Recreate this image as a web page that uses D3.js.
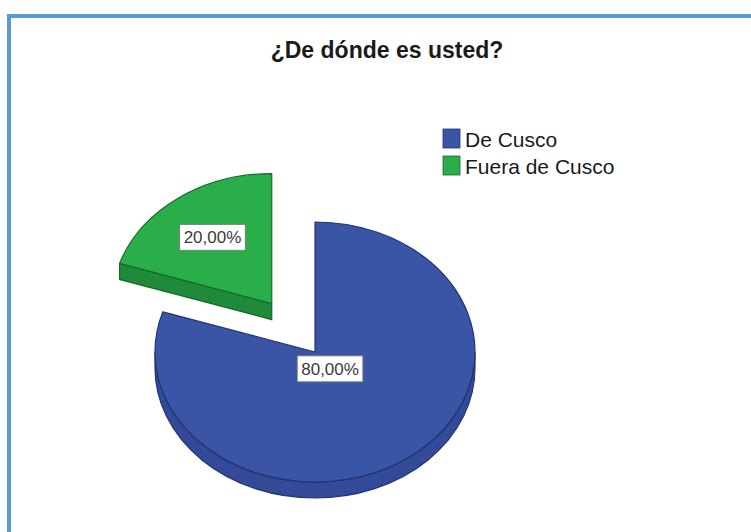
<!DOCTYPE html>
<html>
<head>
<meta charset="utf-8">
<script src="https://cdn.jsdelivr.net/npm/d3@7"></script>
<style>
  html, body { margin: 0; padding: 0; background: #ffffff; }
  svg { display: block; }
</style>
</head>
<body>
<svg id="chart" width="751" height="532"></svg>
<script>
// Survey answers: where the respondent is from
const categories = ["De Cusco", "Fuera de Cusco"];
const percentages = [80, 20];
const exploded = [false, true];
const topColors = ["#3a54a6", "#2aae4a"];
const sideColors = ["#324a98", "#1f8a3a"];
const edgeColors = ["#22356f", "#176a2c"];
const chartTitle = "¿De dónde es usted?";

const W = 751, H = 532;
const svg = d3.select("#chart");

// frame
svg.append("rect")
  .attr("x", 9).attr("y", 16)
  .attr("width", W + 20).attr("height", H + 20)
  .attr("fill", "#ffffff")
  .attr("stroke", "#5b9bd5")
  .attr("stroke-width", 4);

// title
svg.append("text")
  .attr("x", 387).attr("y", 58)
  .attr("text-anchor", "middle")
  .attr("font-family", "Liberation Sans, Arial, sans-serif")
  .attr("font-weight", "bold")
  .attr("font-size", 23)
  .attr("fill", "#1a1a1a")
  .text(chartTitle);

// tilted pie geometry
const cx = 315, cy = 352;   // centre of the top face
const rx = 160, ry = 130;   // ellipse radii
const depth = 16;           // thickness of the disc
const explodeFrac = 0.46;   // pull-out distance, as a fraction of the radius

const pie = d3.pie().sort(null).startAngle(0).endAngle(2 * Math.PI).value(d => d);
const arcs = pie(percentages);

const fmt = d3.formatLocale({ decimal: ",", thousands: ".", grouping: [3], currency: ["", ""] }).format(".2f");
const total = d3.sum(percentages);

function pt(c, a, dy = 0) {
  return [c[0] + rx * Math.sin(a), c[1] - ry * Math.cos(a) + dy];
}

function topPath(c, a0, a1) {
  const p0 = pt(c, a0), p1 = pt(c, a1);
  const large = (a1 - a0) > Math.PI ? 1 : 0;
  return `M${c[0]},${c[1]} L${p0[0]},${p0[1]} A${rx},${ry} 0 ${large} 1 ${p1[0]},${p1[1]} Z`;
}

function wallPath(c, b0, b1) {
  const p0 = pt(c, b0), p1 = pt(c, b1);
  const q0 = pt(c, b0, depth), q1 = pt(c, b1, depth);
  const large = (b1 - b0) > Math.PI ? 1 : 0;
  return `M${p0[0]},${p0[1]} A${rx},${ry} 0 ${large} 1 ${p1[0]},${p1[1]} ` +
         `L${q1[0]},${q1[1]} A${rx},${ry} 0 ${large} 0 ${q0[0]},${q0[1]} Z`;
}

function cutPath(c, a) {
  const p = pt(c, a), q = pt(c, a, depth);
  return `M${c[0]},${c[1]} L${p[0]},${p[1]} L${q[0]},${q[1]} L${c[0]},${c[1] + depth} Z`;
}

const slices = arcs.map((d, i) => {
  const mid = (d.startAngle + d.endAngle) / 2;
  const k = exploded[i] ? explodeFrac : 0;
  const c = [cx + k * rx * Math.sin(mid), cy - k * ry * Math.cos(mid)];
  return { d, i, mid, c };
});

// slices further back are drawn first
const order = slices.slice().sort((a, b) => a.c[1] - b.c[1]);
const g = svg.append("g");

order.forEach(s => {
  const { d, i, c } = s;
  const a0 = d.startAngle, a1 = d.endAngle;
  const sg = g.append("g");

  // outer wall, visible on the front half (pi/2 .. 3pi/2)
  const b0 = Math.max(a0, Math.PI / 2), b1 = Math.min(a1, 3 * Math.PI / 2);
  if (b1 > b0) {
    sg.append("path").attr("d", wallPath(c, b0, b1))
      .attr("fill", sideColors[i]).attr("stroke", edgeColors[i]).attr("stroke-width", 1.2);
  }
  // radial cut faces that turn towards the viewer
  if (Math.cos(a0 - Math.PI / 2) < -1e-6) {
    sg.append("path").attr("d", cutPath(c, a0))
      .attr("fill", sideColors[i]).attr("stroke", edgeColors[i]).attr("stroke-width", 1.2);
  }
  if (Math.cos(a1 + Math.PI / 2) < -1e-6) {
    sg.append("path").attr("d", cutPath(c, a1))
      .attr("fill", sideColors[i]).attr("stroke", edgeColors[i]).attr("stroke-width", 1.2);
  }
  // top face
  sg.append("path").attr("d", topPath(c, a0, a1))
    .attr("fill", topColors[i]).attr("stroke", edgeColors[i]).attr("stroke-width", 1.2)
    .attr("stroke-linejoin", "round");
});

// value labels
slices.forEach(s => {
  const { d, i, mid, c } = s;
  const lr = exploded[i] ? 0.63 : 0.16;
  const x = c[0] + lr * rx * Math.sin(mid);
  const y = c[1] - lr * ry * Math.cos(mid);
  const label = fmt(d.value / total * 100) + "%";
  const lg = svg.append("g").attr("transform", `translate(${x},${y})`);
  const t = lg.append("text")
    .attr("text-anchor", "middle")
    .attr("dy", "0.36em")
    .attr("font-family", "Liberation Sans, Arial, sans-serif")
    .attr("font-size", 17)
    .attr("fill", "#3a3a3a")
    .text(label);
  const bb = t.node().getBBox();
  lg.insert("rect", "text")
    .attr("x", bb.x - 4).attr("y", -13)
    .attr("width", bb.width + 8).attr("height", 26)
    .attr("fill", "#ffffff")
    .attr("stroke", "#7a7a7a").attr("stroke-width", 1);
});

// legend
const legend = svg.append("g").attr("transform", "translate(443,129)");
categories.forEach((name, i) => {
  const row = legend.append("g").attr("transform", `translate(0,${i * 27})`);
  row.append("rect")
    .attr("width", 17).attr("height", 19)
    .attr("fill", topColors[i]).attr("stroke", edgeColors[i]).attr("stroke-width", 0.8);
  row.append("text")
    .attr("x", 22).attr("y", 18)
    .attr("font-family", "Liberation Sans, Arial, sans-serif")
    .attr("font-size", 21)
    .attr("fill", "#1a1a1a")
    .text(name);
});
</script>
</body>
</html>
